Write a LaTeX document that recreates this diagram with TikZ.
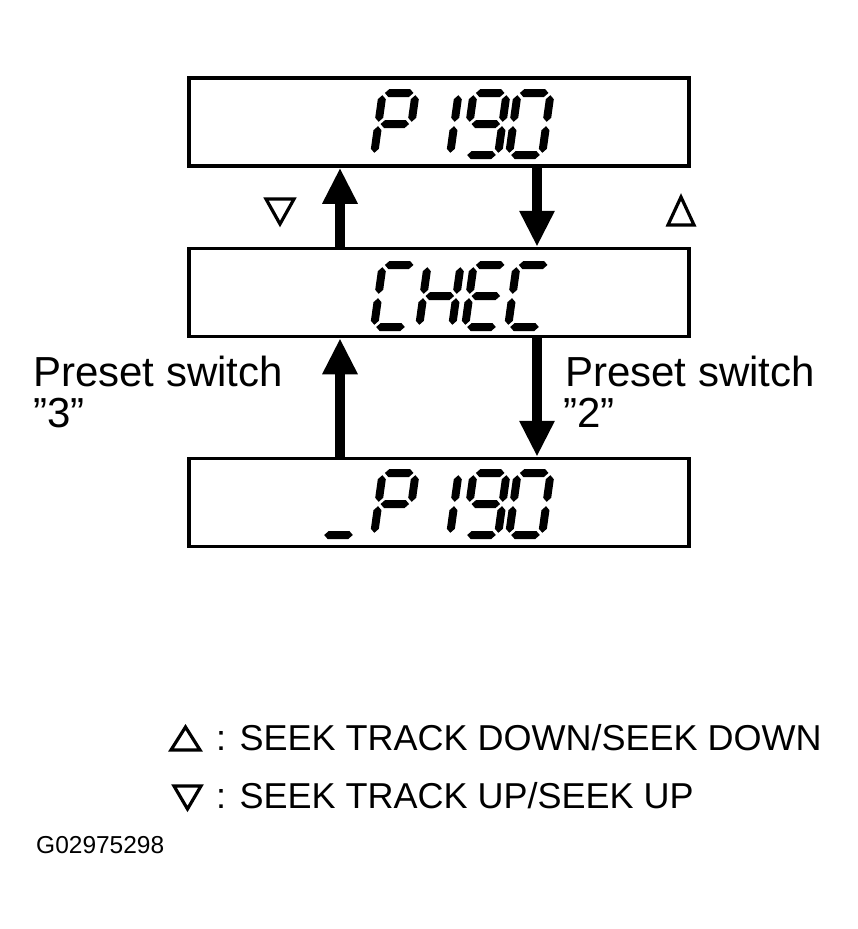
\documentclass[tikz,border=0pt]{standalone}
\usepackage{fontspec}
\setmainfont{Liberation Sans}
\usetikzlibrary{arrows.meta}

\begin{document}
\begin{tikzpicture}[x=1pt,y=-1pt,
    lcd/.style={draw,line width=3.5pt,minimum width=500pt,minimum height=88pt,inner sep=0pt},
    bigarrow/.style={line width=10pt,-{Triangle[width=33pt,length=36pt]}},
    tri/.style={line width=3.2pt},
    txt/.style={inner sep=0pt,anchor=base west,font=\fontsize{42pt}{42pt}\selectfont},
    legend/.style={inner sep=0pt,anchor=base west,font=\fontsize{36pt}{36pt}\selectfont}]
    \useasboundingbox (0,0) rectangle (857,929);
    % segments of the display, local y up
    \newcommand{\lcdh}[3]{\fill (#1+2.2,#3) -- (#1+6.2,#3+4) -- (#2-6.2,#3+4) -- (#2-2.2,#3) -- (#2-6.2,#3-4) -- (#1+6.2,#3-4) -- cycle;}
    \newcommand{\lcdv}[3]{\fill (#1,#2+2.2) -- (#1+4,#2+6.2) -- (#1+4,#3-6.2) -- (#1,#3-2.2) -- (#1-4,#3-6.2) -- (#1-4,#2+6.2) -- cycle;}
    \newcommand{\lcdsega}{\lcdh{0}{33}{62}}
    \newcommand{\lcdsegb}{\lcdv{33}{31}{62}}
    \newcommand{\lcdsegc}{\lcdv{33}{0}{31}}
    \newcommand{\lcdsegd}{\lcdh{0}{33}{0}}
    \newcommand{\lcdsege}{\lcdv{0}{0}{31}}
    \newcommand{\lcdsegf}{\lcdv{0}{31}{62}}
    \newcommand{\lcdsegg}{\lcdh{0}{33}{31}}
    \newcommand{\lcdchar}[3]{\begin{scope}[shift={(#1,#2)},x=1pt,y=1pt,xslant=0.14]
        \foreach \s in {#3} {\csname lcdseg\s\endcsname}
    \end{scope}}

    \node[lcd] (top) at (439,122) {};
    \node[lcd] (mid) at (439,292.5) {};
    \node[lcd] (bot) at (439,502.5) {};

    % P 190
    \lcdchar{374}{155}{a,b,e,f,g}
    \lcdchar{417}{155}{b,c}
    \lcdchar{465}{155}{a,b,c,d,f,g}
    \lcdchar{509}{155}{a,b,c,d,e,f}
    % CHEC
    \lcdchar{374}{327}{a,d,e,f}
    \lcdchar{419}{327}{b,c,e,f,g}
    \lcdchar{465}{327}{a,d,e,f,g}
    \lcdchar{508}{327}{a,d,e,f}
    % _P 190
    \lcdchar{322}{535}{d}
    \lcdchar{374}{535}{a,b,e,f,g}
    \lcdchar{417}{535}{b,c}
    \lcdchar{465}{535}{a,b,c,d,f,g}
    \lcdchar{509}{535}{a,b,c,d,e,f}

    \coordinate (ul) at (340,0);
    \coordinate (dr) at (537,0);
    \draw[bigarrow] (mid.north -| ul) -- (top.south -| ul);
    \draw[bigarrow] (top.south -| dr) -- (mid.north -| dr);
    \draw[bigarrow] (bot.north -| ul) -- (mid.south -| ul);
    \draw[bigarrow] (mid.south -| dr) -- (bot.north -| dr);

    \draw[tri] (266,199) -- (294,199) -- (280,224) -- cycle;
    \draw[tri] (668,225) -- (694,225) -- (681,197) -- cycle;

    \node[txt] (psl) at (33,386) {Preset switch};
    \node[txt] (p3) at (33,427) {”3”};
    \node[txt] (psr) at (565,386) {Preset switch};
    \node[txt] (p2) at (563,427) {”2”};

    \draw[tri] (171,750) -- (200,750) -- (185.5,727) -- cycle;
    \draw[tri] (174,786) -- (201,786) -- (187.5,809) -- cycle;
    \node[legend] (ldown) at (216,750) {: SEEK TRACK DOWN/SEEK DOWN};
    \node[legend] (lup) at (216,808) {: SEEK TRACK UP/SEEK UP};
    \node[inner sep=0pt,anchor=base west,font=\fontsize{24.5pt}{24.5pt}\selectfont] (code) at (36,853) {G02975298};
\end{tikzpicture}
\end{document}
